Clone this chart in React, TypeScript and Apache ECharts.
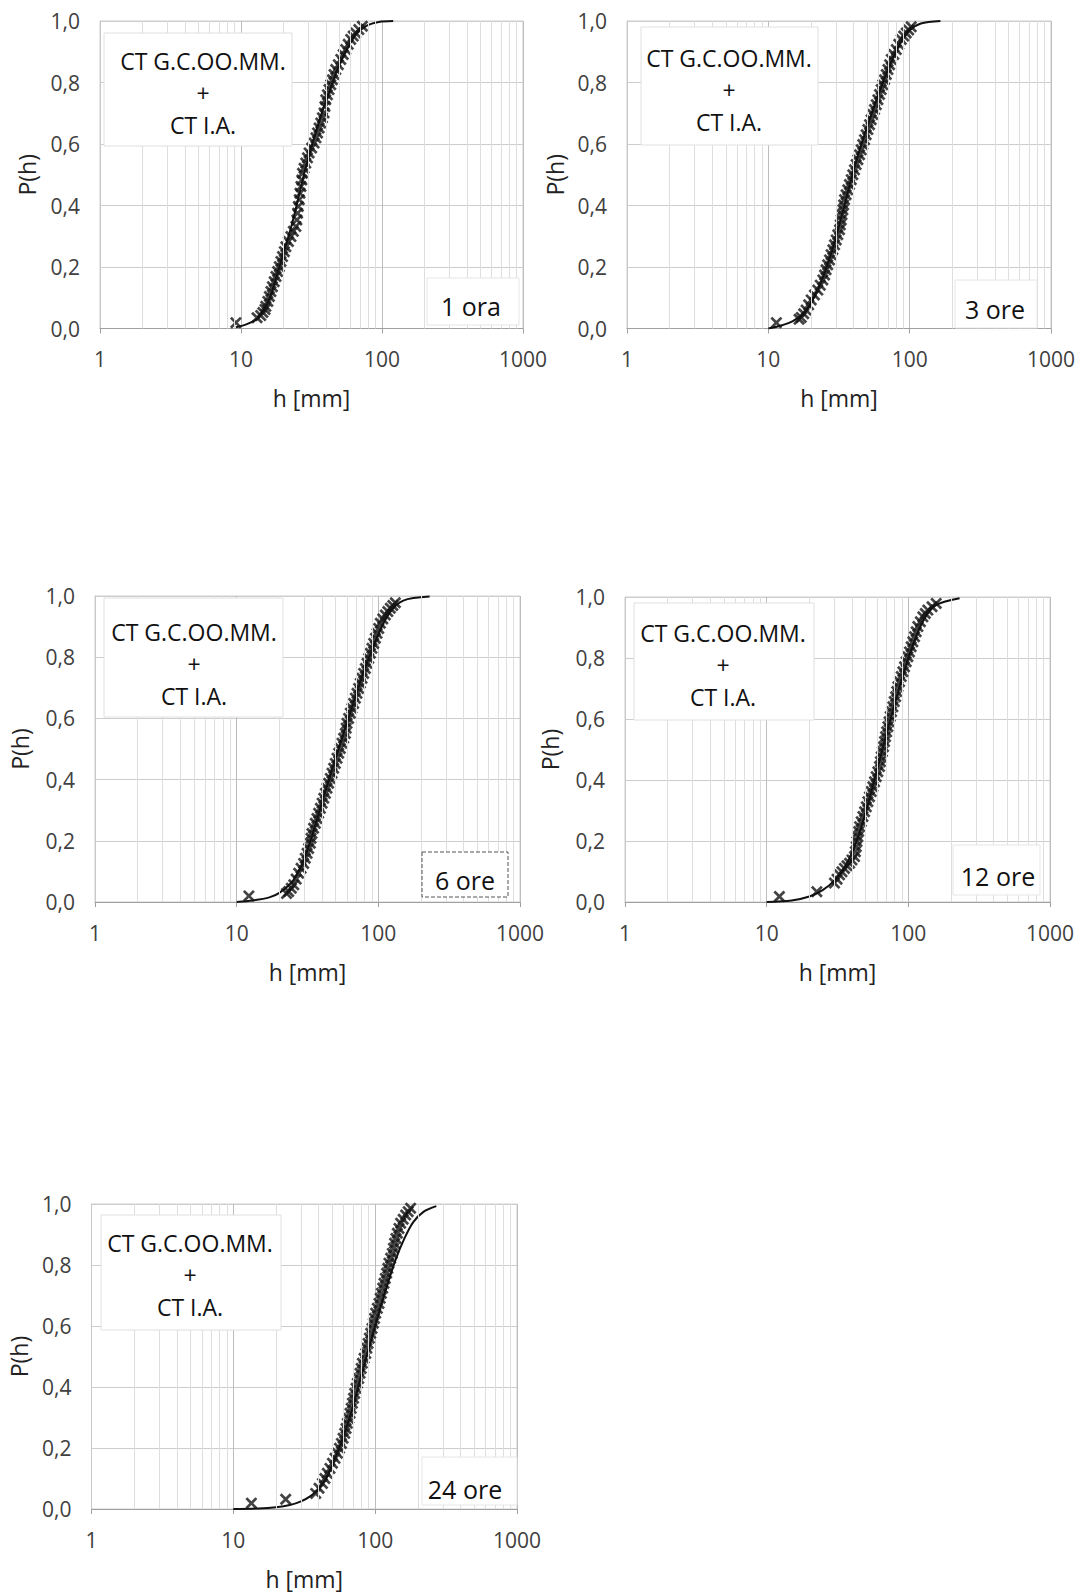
import React, { useEffect, useRef } from 'react';
import * as echarts from 'echarts';

const FONT = '"Open Sans", "Noto Sans", sans-serif';

// ---- tick labels / texts ----
const xTickLabels = ['1', '10', '100', '1000'];
const yTickLabels = ['0,0', '0,2', '0,4', '0,6', '0,8', '1,0'];
const durations = ['1 ora', '3 ore', '6 ore', '12 ore', '24 ore'];
const sourceLabel = 'CT G.C.OO.MM.\n+\nCT I.A.';
const xName = 'h [mm]';
const yName = 'P(h)';
const minorGrid = [2, 3, 4, 5, 6, 7, 8, 9, 20, 30, 40, 50, 60, 70, 80, 90, 200, 300, 400, 500, 600, 700, 800, 900];

const obs1h = [
  [9.2, 0.019], [13.0, 0.035], [13.8, 0.042], [14.3, 0.052], [14.8, 0.062], [15.0, 0.072], [15.5, 0.088],
  [15.9, 0.104], [16.3, 0.12], [16.7, 0.136], [17.2, 0.152], [17.7, 0.169], [18.2, 0.185], [18.7, 0.201],
  [19.2, 0.218], [19.7, 0.234], [20.3, 0.25], [20.8, 0.266], [21.7, 0.283], [22.6, 0.299], [23.5, 0.316],
  [24.5, 0.332], [24.9, 0.353], [25.2, 0.375], [25.5, 0.397], [25.9, 0.419], [26.2, 0.44], [26.6, 0.462],
  [27.0, 0.483], [27.3, 0.505], [28.0, 0.521], [28.8, 0.538], [29.6, 0.555], [30.4, 0.571], [31.7, 0.587],
  [33.0, 0.603], [34.0, 0.62], [34.9, 0.636], [35.8, 0.652], [36.8, 0.668], [37.8, 0.685], [38.8, 0.701],
  [39.4, 0.722], [39.9, 0.744], [41.0, 0.76], [42.1, 0.777], [43.3, 0.793], [44.5, 0.809], [45.7, 0.826],
  [47.0, 0.842], [49.0, 0.858], [51.0, 0.875], [53.1, 0.891], [55.3, 0.907], [57.6, 0.924], [60.0, 0.94],
  [62.5, 0.951], [65.1, 0.961], [68.5, 0.972], [72.6, 0.983],
];
const obs3h = [
  [11.4, 0.019], [16.5, 0.03], [17.1, 0.036], [17.8, 0.048], [18.5, 0.06], [19.3, 0.077], [20.1, 0.093],
  [21.2, 0.109], [22.4, 0.125], [23.3, 0.141], [24.3, 0.158], [25.0, 0.174], [25.6, 0.191], [26.3, 0.207],
  [27.1, 0.223], [27.8, 0.24], [28.6, 0.256], [29.4, 0.272], [30.2, 0.288], [31.0, 0.305], [31.9, 0.321],
  [32.3, 0.337], [32.8, 0.353], [33.2, 0.37], [33.7, 0.386], [34.1, 0.402], [34.6, 0.419], [35.5, 0.435],
  [36.5, 0.451], [37.5, 0.468], [38.6, 0.484], [39.6, 0.5], [40.7, 0.516], [41.8, 0.533], [43.0, 0.549],
  [44.2, 0.565], [45.4, 0.581], [46.6, 0.598], [47.9, 0.614], [49.2, 0.63], [50.6, 0.647], [52.0, 0.663],
  [53.4, 0.679], [54.9, 0.696], [56.4, 0.712], [58.0, 0.728], [59.6, 0.744], [61.2, 0.761], [62.9, 0.777],
  [64.6, 0.793], [66.4, 0.809], [68.3, 0.826], [70.2, 0.842], [72.1, 0.858], [74.1, 0.875], [77.2, 0.891],
  [80.4, 0.907], [83.7, 0.924], [87.2, 0.94], [90.8, 0.951], [94.5, 0.961], [98.4, 0.971], [102.5, 0.981],
];
const obs6h = [
  [12.2, 0.02], [22.5, 0.028], [23.3, 0.034], [24.3, 0.045], [25.3, 0.056], [26.3, 0.075], [27.4, 0.094],
  [28.5, 0.11], [29.7, 0.126], [30.5, 0.143], [31.4, 0.159], [32.2, 0.175], [33.1, 0.192], [33.5, 0.208],
  [34.0, 0.224], [34.9, 0.241], [35.9, 0.257], [36.9, 0.273], [37.9, 0.29], [39.0, 0.306], [40.1, 0.323],
  [41.2, 0.339], [42.3, 0.355], [43.4, 0.372], [44.6, 0.388], [45.8, 0.404], [47.1, 0.421], [48.4, 0.437],
  [49.7, 0.453], [51.1, 0.47], [52.5, 0.486], [53.9, 0.502], [55.4, 0.519], [56.9, 0.535], [58.5, 0.551],
  [59.3, 0.568], [60.1, 0.584], [61.7, 0.6], [63.4, 0.617], [65.1, 0.633], [66.9, 0.649], [68.8, 0.666],
  [70.7, 0.682], [72.6, 0.698], [74.6, 0.715], [76.7, 0.731], [78.8, 0.747], [81.0, 0.763], [83.2, 0.78],
  [85.5, 0.796], [87.8, 0.813], [90.2, 0.829], [92.7, 0.845], [95.3, 0.862], [97.9, 0.878], [100.6, 0.894],
  [103.3, 0.911], [107.5, 0.925], [112.0, 0.938], [116.7, 0.949], [121.5, 0.96], [126.5, 0.969], [131.8, 0.978],
];
const obs12h = [
  [12.3, 0.018], [22.6, 0.034], [30.1, 0.062], [31.4, 0.075], [32.7, 0.089], [34.0, 0.099], [35.4, 0.11],
  [36.9, 0.119], [38.5, 0.127], [40.0, 0.138], [41.7, 0.149], [42.3, 0.165], [42.9, 0.181], [43.4, 0.198],
  [44.0, 0.214], [44.6, 0.231], [45.3, 0.247], [46.5, 0.263], [47.8, 0.28], [49.1, 0.296], [50.5, 0.312],
  [51.8, 0.329], [53.2, 0.345], [54.7, 0.362], [56.2, 0.378], [57.7, 0.394], [59.3, 0.411], [60.9, 0.427],
  [62.6, 0.444], [63.5, 0.46], [64.4, 0.476], [65.6, 0.493], [66.8, 0.509], [67.9, 0.526], [69.0, 0.542],
  [70.3, 0.558], [71.7, 0.575], [73.1, 0.591], [74.5, 0.608], [76.1, 0.624], [77.8, 0.64], [79.5, 0.657],
  [81.3, 0.673], [82.8, 0.69], [84.4, 0.706], [86.7, 0.722], [89.1, 0.739], [91.5, 0.755], [94.0, 0.771],
  [96.6, 0.788], [99.2, 0.804], [101.9, 0.82], [104.7, 0.837], [107.6, 0.853], [110.6, 0.87], [113.6, 0.886],
  [116.8, 0.903], [121.6, 0.919], [126.6, 0.935], [131.8, 0.946], [137.3, 0.957], [147.0, 0.968], [157.3, 0.979],
];
const obs24h = [
  [13.4, 0.019], [23.4, 0.032], [38.1, 0.051], [40.2, 0.068], [42.5, 0.084], [44.2, 0.1], [46.0, 0.117],
  [48.0, 0.133], [50.0, 0.15], [52.1, 0.166], [54.2, 0.183], [56.0, 0.199], [57.8, 0.215], [59.4, 0.232],
  [61.0, 0.248], [62.3, 0.264], [63.7, 0.281], [65.1, 0.297], [66.5, 0.314], [67.8, 0.33], [69.1, 0.347],
  [70.4, 0.363], [71.7, 0.379], [73.3, 0.396], [74.9, 0.412], [76.5, 0.428], [78.2, 0.445], [79.7, 0.461],
  [81.2, 0.478], [83.5, 0.494], [85.8, 0.51], [87.4, 0.527], [89.1, 0.543], [91.0, 0.56], [93.0, 0.576],
  [95.0, 0.592], [97.1, 0.609], [98.9, 0.625], [100.8, 0.642], [103.6, 0.658], [106.4, 0.674], [108.5, 0.691],
  [110.6, 0.707], [113.0, 0.724], [115.4, 0.74], [117.9, 0.756], [120.5, 0.773], [122.8, 0.789], [125.1, 0.806],
  [128.6, 0.822], [132.1, 0.838], [134.6, 0.855], [137.1, 0.871], [140.2, 0.887], [143.3, 0.904], [147.2, 0.92],
  [151.2, 0.937], [157.6, 0.95], [164.0, 0.964], [170.9, 0.975], [177.8, 0.986],
];

// ---- fitted distribution curves [h (mm), P(h)] ----
const fit1h = [
  [9.2, 0.004], [11, 0.014], [13, 0.032], [14.5, 0.06], [16, 0.1], [18, 0.175], [20, 0.245], [23, 0.34],
  [26, 0.44], [29, 0.53], [33, 0.62], [38, 0.71], [43, 0.78], [48, 0.84], [55, 0.9], [65, 0.955],
  [78, 0.985], [95, 0.997], [120, 1.0],
];
const fit3h = [
  [10, 0.0], [12, 0.008], [15, 0.025], [18, 0.052], [21, 0.1], [25, 0.18], [29, 0.27], [33, 0.365],
  [37, 0.455], [42, 0.545], [48, 0.63], [55, 0.71], [63, 0.785], [72, 0.855], [85, 0.925], [100, 0.97],
  [120, 0.992], [165, 1.0],
];
const fit6h = [
  [10, 0.0], [13, 0.005], [17, 0.015], [20, 0.03], [25, 0.07], [30, 0.14], [35, 0.235], [40, 0.325],
  [50, 0.47], [60, 0.585], [70, 0.68], [80, 0.76], [100, 0.875], [120, 0.945], [150, 0.985], [230, 0.998],
];
const fit12h = [
  [10, 0.0], [15, 0.005], [20, 0.018], [25, 0.04], [30, 0.07], [35, 0.11], [40, 0.16], [45, 0.225],
  [50, 0.295], [60, 0.43], [70, 0.55], [80, 0.65], [100, 0.8], [125, 0.915], [155, 0.972], [230, 0.996],
];
const fit24h = [
  [10, 0.0], [15, 0.002], [20, 0.006], [25, 0.013], [30, 0.025], [35, 0.042], [40, 0.066], [45, 0.1],
  [50, 0.145], [60, 0.24], [70, 0.34], [80, 0.44], [100, 0.6], [120, 0.725], [140, 0.82], [160, 0.885],
  [185, 0.94], [220, 0.975], [270, 0.993],
];

const observed = [obs1h, obs3h, obs6h, obs12h, obs24h];
const fitted = [fit1h, fit3h, fit6h, fit12h, fit24h];

// ---- layout (pixels) ----
const panels = [
  { left: 100, top: 21, width: 423, height: 307.5, gapX: 58, gapY: 62,
    box: [104, 33, 188, 113], boxC: [203, 92.5], tag: [427, 278, 92, 47], tagC: [471, 306], dashed: false },
  { left: 627, top: 21, width: 424, height: 307.5, gapX: 58, gapY: 61,
    box: [641, 27, 177, 118], boxC: [729, 90], tag: [955, 280, 82, 48], tagC: [995, 309], dashed: false },
  { left: 95, top: 596, width: 425, height: 306, gapX: 58, gapY: 64,
    box: [104, 598, 179, 119], boxC: [194, 664], tag: [422, 852, 86, 45], tagC: [465, 880], dashed: true },
  { left: 625, top: 597, width: 425, height: 305, gapX: 58, gapY: 64,
    box: [634, 603, 180, 117], boxC: [723, 664.5], tag: [953, 845, 87, 50], tagC: [998, 876], dashed: false },
  { left: 91.5, top: 1204, width: 425.5, height: 305, gapX: 58, gapY: 61,
    box: [101, 1215, 180, 115], boxC: [190, 1275], tag: [422, 1457, 95, 48], tagC: [465, 1489], dashed: false },
];

const X_SYMBOL = 'path://M0,1.6L1.6,0L5,3.4L8.4,0L10,1.6L6.6,5L10,8.4L8.4,10L5,6.6L1.6,10L0,8.4L3.4,5Z';

export default function App() {
  const ref = useRef<HTMLDivElement>(null);
  useEffect(() => {
    if (!ref.current) return;
    const chart = echarts.init(ref.current, undefined, { renderer: 'svg' });
    const grid: any[] = [];
    const xAxis: any[] = [];
    const yAxis: any[] = [];
    const series: any[] = [];
    const graphic: any[] = [];

    panels.forEach((p, i) => {
      grid.push({
        left: p.left, top: p.top, width: p.width, height: p.height,
        show: true, borderColor: '#cfcfcf', borderWidth: 1, backgroundColor: '#ffffff',
      });
      xAxis.push({
        type: 'log', logBase: 10, min: 1, max: 1000, gridIndex: i,
        name: xName, nameLocation: 'middle', nameGap: p.gapX,
        nameTextStyle: { fontFamily: FONT, fontSize: 23, color: '#222222' },
        axisLine: { show: true, onZero: false, lineStyle: { color: '#a0a0a0', width: 1 } },
        axisTick: { show: true, length: 5, lineStyle: { color: '#a0a0a0' } },
        axisLabel: {
          fontFamily: FONT, fontSize: 21, color: '#404040', margin: 20,
          formatter: (v: number) => xTickLabels[Math.round(Math.log10(v))] ?? '',
        },
        splitLine: { show: true, lineStyle: { color: '#bdbdbd', width: 1 } },
      });
      yAxis.push({
        type: 'value', min: 0, max: 1, interval: 0.2, gridIndex: i,
        name: yName, nameLocation: 'middle', nameGap: p.gapY,
        nameTextStyle: { fontFamily: FONT, fontSize: 23, color: '#222222' },
        axisLine: { show: true, lineStyle: { color: '#c8c8c8' } },
        axisTick: { show: false },
        axisLabel: {
          fontFamily: FONT, fontSize: 21, color: '#404040', margin: 20,
          formatter: (v: number) => yTickLabels[Math.round(v * 5)] ?? '',
        },
        splitLine: { show: true, lineStyle: { color: '#cdcdcd', width: 1 } },
      });
      series.push({
        type: 'line', xAxisIndex: i, yAxisIndex: i, data: [], silent: true, z: 1,
        markLine: {
          silent: true, symbol: ['none', 'none'], label: { show: false },
          lineStyle: { color: '#dedede', width: 1, type: 'solid' },
          data: minorGrid.map((v) => ({ xAxis: v })),
        },
      });
      series.push({
        type: 'scatter', xAxisIndex: i, yAxisIndex: i, data: observed[i], z: 3,
        symbol: X_SYMBOL, symbolSize: 12, itemStyle: { color: '#141414' },
      });
      series.push({
        type: 'line', xAxisIndex: i, yAxisIndex: i, data: fitted[i], z: 4,
        smooth: 0.3, showSymbol: false, symbol: 'none',
        lineStyle: { color: '#111111', width: 2 },
      });

      graphic.push({
        type: 'rect', z: 20,
        shape: { x: p.box[0], y: p.box[1], width: p.box[2], height: p.box[3] },
        style: { fill: '#ffffff', stroke: '#e0e0e0', lineWidth: 1 },
      });
      graphic.push({
        type: 'text', z: 21, x: p.boxC[0], y: p.boxC[1],
        style: {
          text: sourceLabel, align: 'center', verticalAlign: 'middle',
          textAlign: 'center', textVerticalAlign: 'middle', lineHeight: 32,
          fontFamily: FONT, fontSize: 23, fill: '#111111',
        },
      });
      graphic.push({
        type: 'rect', z: 20,
        shape: { x: p.tag[0], y: p.tag[1], width: p.tag[2], height: p.tag[3] },
        style: p.dashed
          ? { fill: '#ffffff', stroke: '#555555', lineWidth: 1, lineDash: [4, 2] }
          : { fill: '#ffffff', stroke: '#e6e6e6', lineWidth: 1 },
      });
      graphic.push({
        type: 'text', z: 21, x: p.tagC[0], y: p.tagC[1],
        style: {
          text: durations[i], align: 'center', verticalAlign: 'middle',
          textAlign: 'center', textVerticalAlign: 'middle',
          fontFamily: FONT, fontSize: 25, fill: '#111111',
        },
      });
    });

    chart.setOption({
      animation: false,
      backgroundColor: '#ffffff',
      grid, xAxis, yAxis, series, graphic,
    });
    return () => chart.dispose();
  }, []);
  return <div ref={ref} style={{ position: 'absolute', left: 0, top: 0, width: 1084, height: 1595 }} />;
}
